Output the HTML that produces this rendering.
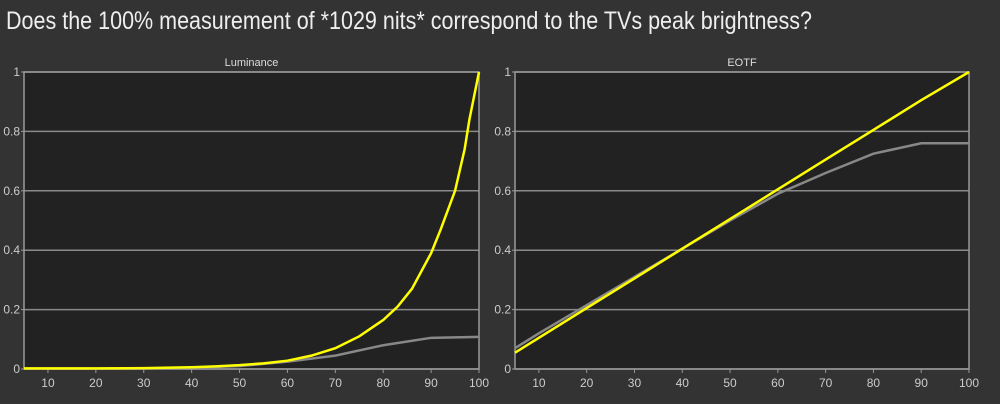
<!DOCTYPE html>
<html><head><meta charset="utf-8"><style>
body{margin:0;background:#333;width:1000px;height:404px;overflow:hidden;font-family:"Liberation Sans",sans-serif}
</style></head><body>
<svg width="1000" height="404" style="display:block">
<rect width="1000" height="404" fill="#333"/>
<text x="6" y="29" fill="#eee" font-size="25" textLength="806" lengthAdjust="spacingAndGlyphs">Does the 100% measurement of *1029 nits* correspond to the TVs peak brightness?</text>
<g id="c1"></g>
<g id="c2"></g>
</svg>
<script>
const xTicks=[10,20,30,40,50,60,70,80,90,100];
const yTicks=[0,0.2,0.4,0.6,0.8,1];
const lumX=[5,10,20,30,40,45,50,55,60,65,70,75,80,83,86,88,90,92,95,97,98,100];
const lumTarget=[0.002,0.002,0.002,0.003,0.006,0.009,0.013,0.019,0.028,0.045,0.07,0.11,0.165,0.21,0.27,0.33,0.39,0.47,0.6,0.74,0.84,1.0];
const lumMeasX=[5,10,20,30,40,50,60,70,80,90,100];
const lumMeas=[0.001,0.001,0.001,0.002,0.004,0.01,0.025,0.045,0.08,0.105,0.108];
const eotfX=[5,10,20,30,40,50,60,70,80,90,100];
const eotfTarget=[0.055,0.105,0.205,0.305,0.405,0.505,0.605,0.705,0.805,0.905,1.0];
const eotfMeas=[0.07,0.12,0.215,0.31,0.405,0.5,0.59,0.66,0.725,0.76,0.76];
const NS="http://www.w3.org/2000/svg";
function el(p,t,a){const e=document.createElementNS(NS,t);for(const k in a)e.setAttribute(k,a[k]);p.appendChild(e);return e;}
function chart(g,L,R,title,series){
  const T=72,B=369;
  const sx=v=>L+(v-5)/95*(R-L), sy=v=>B-v*(B-T);
  const bg=el(g,'rect',{x:L,y:T,width:R-L,height:B-T,fill:'#222'});
  
  const tt=el(g,'text',{x:(L+R)/2,y:66,fill:'#ddd','font-size':11,'text-anchor':'middle'});tt.textContent=title;
  
  yTicks.forEach(v=>{
    const y=sy(v);
    const gl=el(g,'line',{x1:L,x2:R,y1:y,y2:y,stroke:'#8a8a8a','stroke-width':1.5});
    
    el(g,'line',{x1:L-3,x2:L,y1:y,y2:y,stroke:'#999'});
    const t=el(g,'text',{x:L-4,y:y+4,fill:'#ccc','font-size':12,'text-anchor':'end'});t.textContent=String(v);
    
  });
  xTicks.forEach(v=>{
    const x=sx(v);
    el(g,'line',{x1:x,x2:x,y1:B,y2:B+4,stroke:'#999'});
    const t=el(g,'text',{x:x,y:B+18,fill:'#ccc','font-size':12,'text-anchor':'middle'});t.textContent=String(v);
    
  });
  el(g,'rect',{x:L,y:T,width:R-L,height:B-T,fill:'none',stroke:'#999','stroke-width':1.5});
  series.forEach(s=>{
    const p=el(g,'polyline',{points:s.x.map((v,i)=>sx(v)+','+sy(s.y[i])).join(' '),fill:'none',stroke:s.c,'stroke-width':s.w});
    
  });
}
chart(document.getElementById('c1'),24,479,'Luminance',[
 {x:lumMeasX,y:lumMeas,c:'#888',w:2.5,n:'measured-luminance-line'},
 {x:lumX,y:lumTarget,c:'#ffff00',w:2.5,n:'target-luminance-line'}]);
chart(document.getElementById('c2'),515,969,'EOTF',[
 {x:eotfX,y:eotfMeas,c:'#888',w:2.5,n:'measured-eotf-line'},
 {x:eotfX,y:eotfTarget,c:'#ffff00',w:2.5,n:'target-eotf-line'}]);
</script>
</body></html>
